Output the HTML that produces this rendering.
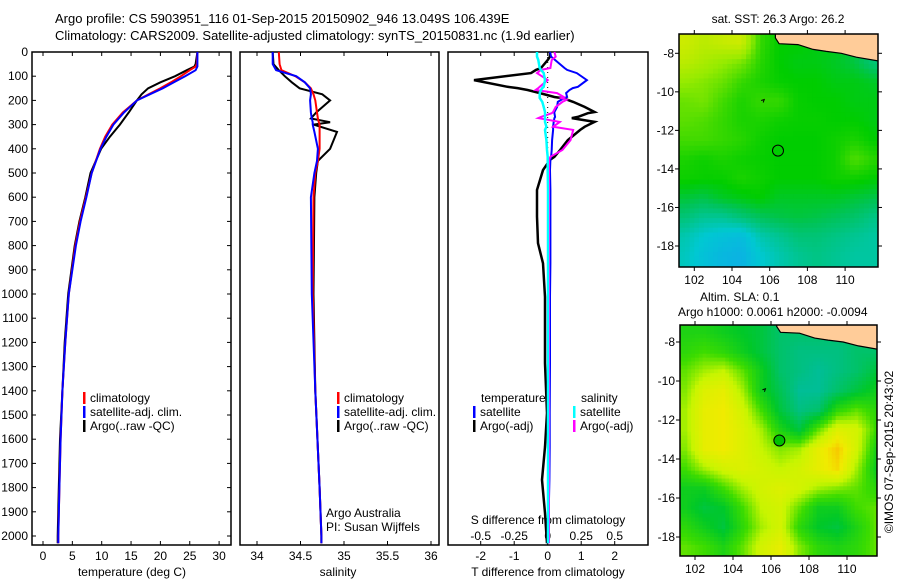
<!DOCTYPE html>
<html><head><meta charset="utf-8">
<style>
html,body{margin:0;padding:0;background:#fff;}
svg{display:block;font-family:"Liberation Sans",sans-serif;}
text{font-size:12px;fill:#000;}
</style></head>
<body>
<svg id="fig" width="900" height="580" viewBox="0 0 900 580" xmlns="http://www.w3.org/2000/svg">
<text x="55" y="23" style="font-size:13px">Argo profile: CS 5903951_116 01-Sep-2015 20150902_946 13.049S 106.439E</text>
<text x="55" y="40" style="font-size:13px">Climatology: CARS2009. Satellite-adjusted climatology: synTS_20150831.nc (1.9d earlier)</text>
<g id="g"></g>
</svg>
<script>
// ---------- data ----------
const depthT = [0,50,60,75,100,125,150,175,200,250,300,350,400,500,600,700,800,1000,1200,1400,1600,1800,2000,2030];
const tempClim = [26.3,26.2,26.0,25.0,23.5,21.8,20.0,18.0,16.0,13.6,11.8,10.6,9.7,8.3,7.3,6.3,5.5,4.4,3.8,3.3,3.0,2.8,2.6,2.6];
const tempSat  = [26.3,26.3,26.3,26.0,24.2,22.3,20.4,18.2,16.0,13.8,12.0,10.8,9.8,8.3,7.4,6.4,5.6,4.4,3.8,3.3,3.0,2.8,2.6,2.6];
const tempArgo = [26.3,26.0,25.8,24.5,22.5,20.0,17.9,16.8,16.0,14.6,13.1,11.4,9.9,8.1,7.2,6.2,5.4,4.3,3.7,3.3,2.9,2.7,2.5,2.5];
const depthS = [0,50,75,100,125,150,175,200,250,275,290,300,330,400,450,500,600,1000,1400,1800,2000,2030];
const salClim = [34.25,34.26,34.28,34.44,34.55,34.62,34.65,34.67,34.69,34.70,34.71,34.72,34.72,34.72,34.70,34.67,34.65,34.64,34.67,34.72,34.74,34.74];
const salSat  = [34.18,34.18,34.22,34.45,34.55,34.61,34.62,34.61,34.62,34.63,34.64,34.64,34.66,34.70,34.69,34.66,34.62,34.63,34.67,34.72,34.74,34.74];
const salArgo = [34.18,34.19,34.25,34.32,34.40,34.49,34.75,34.84,34.68,34.62,34.84,34.65,34.92,34.84,34.70,34.68,34.66,34.65,34.67,34.72,34.74,34.74];
const depthD = [0,19,33,66,74,87,116,144,149,157,170,186,190,198,206,227,248,253,268,273,289,309,322,364,405,433,446,488,570,680,790,873,1012,1286,1492,1632,1768,1905,2030];
const dTargo = [0.07,0.07,0.0,-0.2,-0.35,-0.5,-2.2,-1.2,-0.9,-0.6,-0.23,0.2,0.4,0.6,0.76,1.1,1.4,1.2,0.9,0.72,1.4,1.1,0.97,0.6,0.37,0.2,0.07,-0.14,-0.32,-0.32,-0.29,-0.14,-0.08,-0.08,-0.02,-0.08,-0.17,-0.08,-0.02];
const dTsat  = [0.07,0.1,0.22,0.5,0.58,0.87,1.17,0.9,0.75,0.65,0.55,0.58,0.5,0.4,0.3,0.28,0.2,0.2,0.22,0.2,0.18,0.16,0.16,0.13,0.12,0.1,0.08,0.07,0.08,0.08,0.08,0.08,0.07,0.07,0.06,0.06,0.05,0.03,0.01];
const dSsat  = [-0.08,-0.08,-0.07,-0.06,-0.05,-0.03,-0.02,-0.03,-0.04,-0.05,-0.06,-0.06,-0.06,-0.05,-0.04,-0.03,-0.02,-0.02,-0.02,-0.02,-0.02,-0.01,-0.02,-0.01,-0.005,0,0,0,0.002,0.002,0.002,0.002,0.002,0.002,0.002,0.002,0.002,0.002,0.002];
const dSargo = [0.05,0.06,0.03,0.02,-0.05,-0.08,0,-0.06,-0.07,-0.09,0.07,0.12,0.1,0.14,0.11,0.06,0.04,0.03,-0.05,-0.07,0.09,0.04,0.19,0.17,0.11,0.02,0.01,0.01,0.01,0.01,0.01,0.01,0.01,0.01,0.01,0.01,0.01,0.01,0.01];
const depthTicks = [0,100,200,300,400,500,600,700,800,900,1000,1100,1200,1300,1400,1500,1600,1700,1800,1900,2000];
const tempTicks = [0,5,10,15,20,25,30];
const salTicks = [34,34.5,35,35.5,36];
const salTickLabels = ["34","34.5","35","35.5","36"];
const dTTicks = [-2,-1,0,1,2];
const dSTicks = [-0.5,-0.25,0,0.25,0.5];
const dSTickLabels = ["-0.5","-0.25","0","0.25","0.5"];
// map grids: rows lat -7.5..-18.5, cols lon 101.5..111.5 (0..1 scale)
const sstGrid = [
[.9,.85,.88,.9,.6,.52,.52,.5,.5,.45,.4],
[.85,.8,.75,.7,.58,.52,.5,.5,.48,.45,.38],
[.75,.72,.68,.6,.56,.53,.52,.52,.5,.5,.48],
[.68,.7,.62,.56,.6,.6,.53,.52,.52,.5,.5],
[.66,.64,.6,.56,.56,.54,.53,.53,.52,.52,.5],
[.62,.62,.6,.58,.54,.52,.52,.52,.54,.56,.52],
[.56,.54,.56,.54,.53,.52,.52,.52,.54,.64,.58],
[.54,.53,.53,.56,.54,.52,.52,.52,.54,.54,.52],
[.46,.44,.48,.5,.52,.48,.48,.48,.48,.46,.44],
[.38,.34,.34,.38,.42,.44,.45,.44,.42,.4,.36],
[.3,.25,.22,.2,.3,.34,.38,.38,.36,.34,.32],
[.28,.22,.18,.16,.25,.3,.34,.36,.34,.32,.32]];
const slaGrid = [
[.35,.35,.3,.25,.2,.1,.1,.1,.1,.1,.1],
[.4,.45,.4,.3,.2,.1,.05,.05,.05,.1,.1],
[.5,.6,.65,.5,.3,.1,.05,0,.05,.1,.2],
[.55,.75,.8,.6,.3,.15,0,0,.1,.2,.3],
[.6,.8,.85,.7,.45,.2,.05,.1,.4,.5,.4],
[.6,.8,.85,.75,.6,.35,.2,.5,.75,.7,.45],
[.55,.8,.85,.75,.65,.55,.6,.8,.95,.7,.35],
[.45,.6,.7,.75,.7,.65,.7,.8,.9,.6,.3],
[.3,.3,.45,.6,.7,.75,.7,.6,.55,.5,.4],
[.3,.2,.25,.45,.65,.7,.5,.3,.3,.45,.5],
[.4,.3,.2,.4,.6,.7,.4,.25,.2,.35,.5],
[.5,.45,.35,.5,.7,.8,.55,.4,.35,.4,.5]];
const lonTicks = [102,104,106,108,110];
const latTicks = [-8,-10,-12,-14,-16,-18];

// ---------- helpers ----------
const NS="http://www.w3.org/2000/svg";
const G=document.getElementById('g');
function mk(tag,attrs,parent){const e=document.createElementNS(NS,tag);for(const k in attrs)e.setAttribute(k,attrs[k]);(parent||G).appendChild(e);return e;}
function txt(x,y,s,anchor,parent,size){const t=mk('text',{x:x,y:y,'text-anchor':anchor||'start'},parent);if(size)t.style.fontSize=size+'px';t.textContent=s;return t;}
const Y = d => 52 + d*0.242;
const XT = v => 43 + v*5.87;
const XS = v => 257 + (v-34)*87;
const XdT = v => 547.7 + v*33.5;
const XdS = v => 547.7 + v*134;

function panel(x0,x1,name){
  const r=mk('rect',{x:x0,y:52,width:x1-x0,height:493,fill:'none',stroke:'#000','stroke-width':1.5});
  
  
}
function line(ds,vs,fx,color,name,w){
  const pts=ds.map((d,i)=>fx(vs[i]).toFixed(1)+','+Y(d).toFixed(1)).join(' ');
  const p=mk('polyline',{points:pts,fill:'none',stroke:color,'stroke-width':w||2});
  
  
}
function xticks(vals,labels,fx,ly){
  vals.forEach((v,i)=>{
    const x=fx(v);
    mk('line',{x1:x,y1:52,x2:x,y2:56,stroke:'#000'});
    mk('line',{x1:x,y1:545,x2:x,y2:541,stroke:'#000'});
    const t=txt(x,ly,labels[i],'middle');
    
    
  });
}

panel(32,231,'temperature-panel');
panel(240,439,'salinity-panel');
panel(448,648,'difference-panel');

depthTicks.forEach(d=>{
  const y=Y(d);
  mk('line',{x1:32,y1:y,x2:36,y2:y,stroke:'#000'});
  mk('line',{x1:231,y1:y,x2:227,y2:y,stroke:'#000'});
  const t=txt(28,y+4,String(d),'end');
  
  
});
xticks(tempTicks,tempTicks.map(String),XT,560);
xticks(salTicks,salTickLabels,XS,560);
xticks(dTTicks,dTTicks.map(String),XdT,560);
dSTicks.forEach((v,i)=>{
  const t=txt(XdS(v),540,dSTickLabels[i],'middle');
  
  
});
let t;
t=txt(132,576,'temperature (deg C)','middle');
t=txt(338,576,'salinity','middle');
t=txt(548,576,'T difference from climatology','middle');
t=txt(548,524,'S difference from climatology','middle');

line(depthT,tempArgo,XT,'#000','temp-argo-line');
line(depthT,tempClim,XT,'#f00','temp-climatology-line');
line(depthT,tempSat,XT,'#00f','temp-satellite-line');
line(depthS,salArgo,XS,'#000','sal-argo-line');
line(depthS,salClim,XS,'#f00','sal-climatology-line');
line(depthS,salSat,XS,'#00f','sal-satellite-line');
const zl=mk('line',{x1:XdT(0),y1:52,x2:XdT(0),y2:Y(1100),stroke:'#000','stroke-dasharray':'1,4'});


line(depthD,dTargo,XdT,'#000','t-diff-argo-line',2.5);
line(depthD,dTsat,XdT,'#00f','t-diff-satellite-line');
line(depthD,dSargo,XdS,'#f0f','s-diff-argo-line');
line(depthD,dSsat,XdS,'#0ff','s-diff-satellite-line',2.5);

function legend(x,y,items,name){
  const g=mk('g',{});
  
  
  items.forEach((it,i)=>{
    mk('rect',{x:x,y:y+i*14-10,width:2.5,height:12,fill:it[1]},g);
    txt(x+7,y+i*14,it[0],'start',g);
  });
}
legend(83,402,[['climatology','#f00'],['satellite-adj. clim.','#00f'],['Argo(..raw -QC)','#000']],'temperature-legend');
legend(337,402,[['climatology','#f00'],['satellite-adj. clim.','#00f'],['Argo(..raw -QC)','#000']],'salinity-legend');
txt(481,402,'temperature');txt(581,402,'salinity');
legend(473,416,[['satellite','#00f'],['Argo(-adj)','#000']],'t-diff-legend');
legend(573,416,[['satellite','#0ff'],['Argo(-adj)','#f0f']],'s-diff-legend');
txt(326,517,'Argo Australia');txt(326,531,'PI: Susan Wijffels');

// ---------- maps ----------
function lerp(a,b,t){return a+(b-a)*t;}
function cmap(stops,v){
  v=Math.max(0,Math.min(1,v));
  for(let i=1;i<stops.length;i++){if(v<=stops[i][0]){const a=stops[i-1],b=stops[i],t=(v-a[0])/(b[0]-a[0]);
    return 'rgb('+[1,2,3].map(k=>Math.round(lerp(a[k],b[k],t))).join(',')+')';}}
  const l=stops[stops.length-1];return 'rgb('+l[1]+','+l[2]+','+l[3]+')';
}
const sstStops=[[0,30,140,255],[0.25,0,200,210],[0.42,0,195,90],[0.52,0,205,0],[0.75,150,235,0],[1,240,235,0]];
const slaStops=[[0,0,190,150],[0.25,0,200,40],[0.45,60,220,0],[0.65,200,245,0],[0.85,240,235,0],[1,250,185,0]];
function sample(grid,lon,lat){
  let c=lon-101.5, r=-7.5-lat;
  c=Math.max(0,Math.min(10,c)); r=Math.max(0,Math.min(11,r));
  const c0=Math.floor(c),r0=Math.floor(r),c1=Math.min(10,c0+1),r1=Math.min(11,r0+1),fc=c-c0,fr=r-r0;
  return lerp(lerp(grid[r0][c0],grid[r0][c1],fc),lerp(grid[r1][c0],grid[r1][c1],fc),fr);
}
function drawMap(m){
  const X=lon=>m.x102+(lon-102)*m.sx, Yl=lat=>m.y8+(-8-lat)*m.sy;
  const g=mk('g',{});
  
  
  const cid='clip'+m.name;
  const cp=mk('clipPath',{id:cid},g);mk('rect',{x:m.l,y:m.t,width:m.r-m.l,height:m.b-m.t},cp);
  const cells=mk('g',{'clip-path':'url(#'+cid+')'},g);
  const step=m.step;
  for(let lon=101.0;lon<112;lon+=step){
    for(let lat=-6.8;lat>-19.4;lat-=step){
      const v=sample(m.grid,lon+step/2,lat-step/2);
      const c=mk('rect',{x:X(lon).toFixed(1),y:Yl(lat).toFixed(1),width:(step*m.sx+0.6).toFixed(1),height:(step*m.sy+0.6).toFixed(1),fill:cmap(m.stops,v)},cells);
      
      
    }
  }
  const coast=[[106.3,-6.5],[106.3,-7.2],[106.5,-7.5],[107.5,-7.55],[108.3,-7.8],[109.0,-7.9],[109.8,-8.0],[110.6,-8.2],[111.8,-8.4],[112,-6.5]];
  const lp=mk('polygon',{points:coast.map(p=>X(p[0]).toFixed(1)+','+Yl(p[1]).toFixed(1)).join(' '),fill:'#ffcc99',stroke:'#000','stroke-width':1.2},cells);
  
  
  mk('path',{d:'M'+X(105.55)+' '+Yl(-10.45)+' l3 -1 l-1 3',fill:'none',stroke:'#000'},g);
  const ci=mk('circle',{cx:X(106.44),cy:Yl(-13.05),r:5.5,fill:m.dot,stroke:'#000','stroke-width':1},g);
  
  
  mk('rect',{x:m.l,y:m.t,width:m.r-m.l,height:m.b-m.t,fill:'none',stroke:'#000','stroke-width':1.5},g);
  lonTicks.forEach(lon=>{const x=X(lon);
    mk('line',{x1:x,y1:m.t,x2:x,y2:m.t-4,stroke:'#000'},g);
    mk('line',{x1:x,y1:m.b,x2:x,y2:m.b+4,stroke:'#000'},g);
    txt(x,m.b+17,String(lon),'middle',g);});
  latTicks.forEach(lat=>{const y=Yl(lat);
    mk('line',{x1:m.l,y1:y,x2:m.l-4,y2:y,stroke:'#000'},g);
    mk('line',{x1:m.r,y1:y,x2:m.r+4,y2:y,stroke:'#000'},g);
    txt(m.l-5,y+4,String(lat),'end',g);});
}
drawMap({name:'sst-map',grid:sstGrid,stops:sstStops,l:679,r:878,t:34,b:267,x102:694.3,sx:18.85,y8:53.3,sy:19.27,step:0.25,dot:'none'});
drawMap({name:'sla-map',grid:slaGrid,stops:slaStops,l:680,r:877,t:325,b:556,x102:695,sx:19.0,y8:342,sy:19.5,step:0.2,dot:'#00c000'});
t=txt(778,23,'sat. SST: 26.3 Argo: 26.2','middle');
t=txt(700,301,'Altim. SLA: 0.1');
t=txt(678,316,'Argo h1000: 0.0061 h2000: -0.0094');
t=txt(0,0,'©IMOS 07-Sep-2015 20:43:02','middle');t.setAttribute('transform','translate(893,452) rotate(-90)');


</script>
</body></html>
